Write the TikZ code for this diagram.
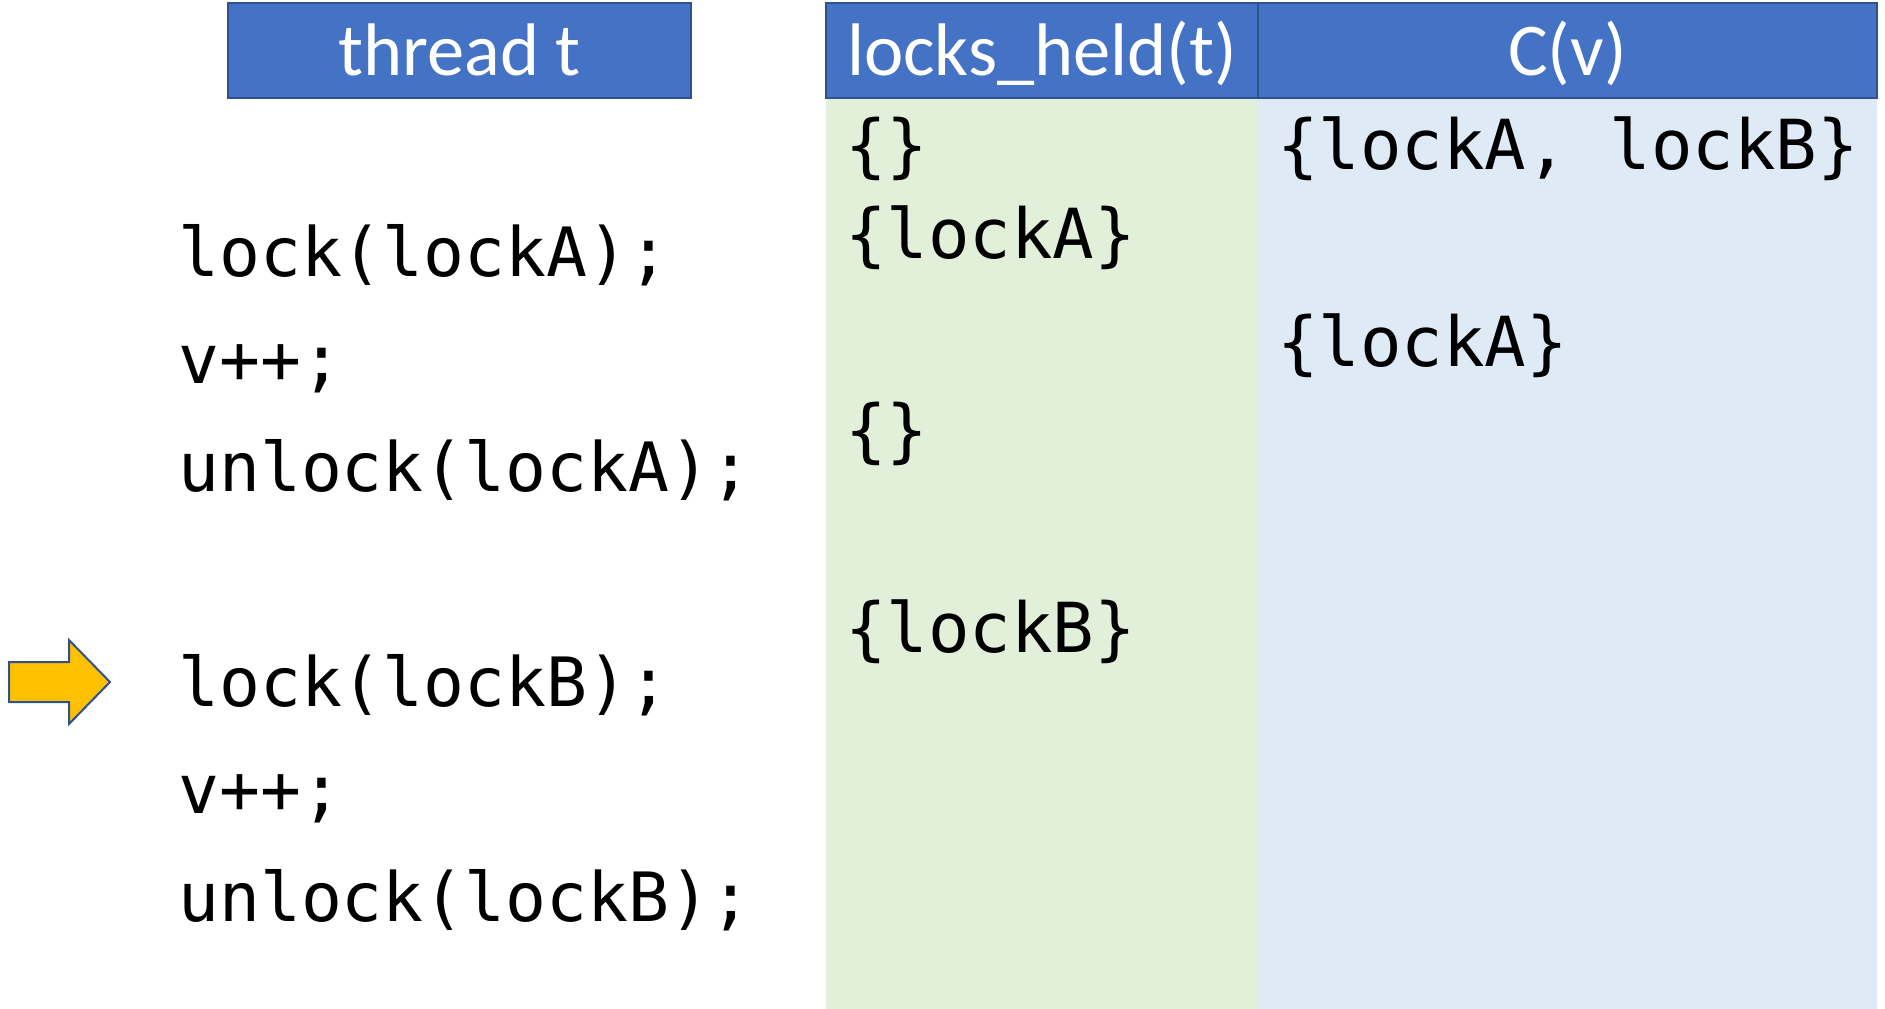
\documentclass[tikz,border=0pt]{standalone}
\usepackage{fontspec}
\setmainfont{Carlito}
\newfontfamily\codefont{DejaVu Sans Mono}
\definecolor{hdrfill}{HTML}{4472C4}
\definecolor{hdrline}{HTML}{2F528F}
\definecolor{greencol}{HTML}{E2F0D9}
\definecolor{bluecol}{HTML}{DEEAF6}
\definecolor{arrowfill}{HTML}{FFC000}
\tikzset{
  hdrbox/.style={fill=hdrfill, draw=hdrline, line width=2pt},
  hdrtext/.style={anchor=base, inner sep=0pt, text=white, font=\fontsize{74.5}{80}\selectfont},
  codetext/.style={anchor=base west, inner sep=0pt, font=\codefont\fontsize{68}{80}\selectfont},
  coltext/.style={anchor=base west, inner sep=0pt, font=\codefont\fontsize{69}{80}\selectfont},
}
\begin{document}
\begin{tikzpicture}[x=1pt,y=-1pt]
\useasboundingbox (0,0) rectangle (1885,1009);
% columns
\fill[greencol] (826,99) rectangle (1258,1009);
\fill[bluecol] (1258,99) rectangle (1877,1009);
% headers
\draw[hdrbox] (228,3) rectangle (691,98);
\draw[hdrbox] (826,3) rectangle (1258,98);
\draw[hdrbox] (1258,3) rectangle (1877,98);
\node[hdrtext] (h1) at (459.5,75) {thread t};
\node[hdrtext] (h2) at (1042,75) {locks\_held(t)};
\node[hdrtext] (h3) at (1567.5,75) {C(v)};
% arrow
\draw[fill=arrowfill, draw=hdrline, line width=2pt, line join=miter]
  (9,662) -- (69,662) -- (69,640) -- (110,682) -- (69,724) -- (69,702) -- (9,702) -- cycle;
% code
\node[codetext] (c1) at (178,276) {lock(lockA);};
\node[codetext] (c2) at (178,383.5) {v++;};
\node[codetext] (c3) at (178,491) {unlock(lockA);};
\node[codetext] (c4) at (178,706) {lock(lockB);};
\node[codetext] (c5) at (178,813.5) {v++;};
\node[codetext] (c6) at (178,921) {unlock(lockB);};
% locks held
\node[coltext] (l1) at (845,169) {\{\}};
\node[coltext] (l2) at (845,258) {\{lockA\}};
\node[coltext] (l3) at (845,454) {\{\}};
\node[coltext] (l4) at (845,652) {\{lockB\}};
% C(v)
\node[coltext] (v1) at (1277,169) {\{lockA, lockB\}};
\node[coltext] (v2) at (1277,366) {\{lockA\}};
\end{tikzpicture}
\end{document}
